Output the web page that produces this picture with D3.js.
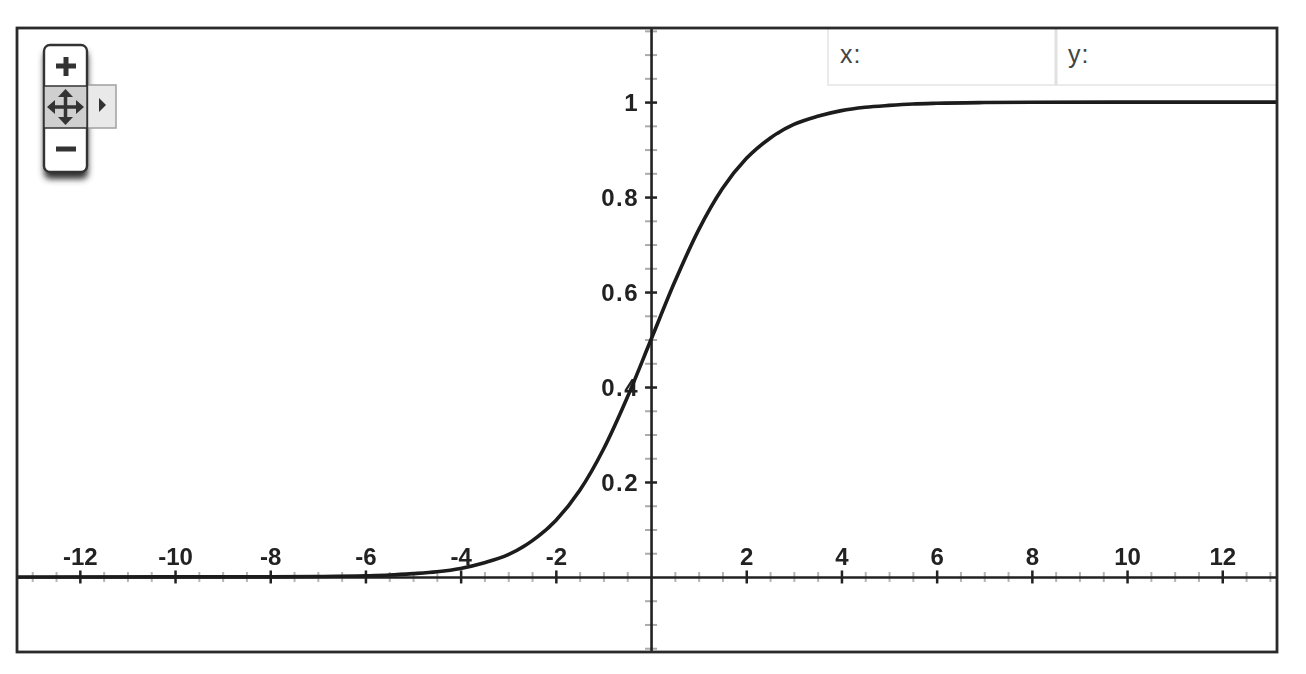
<!DOCTYPE html>
<html><head><meta charset="utf-8">
<script src="https://cdn.jsdelivr.net/npm/d3@7/dist/d3.min.js"></script>
<style>
html,body{margin:0;padding:0;background:#fff;overflow:hidden}
svg{display:block;filter:blur(0.7px)}
text{font-family:"Liberation Sans",Arial,sans-serif}
</style></head><body>
<svg id="c" width="1306" height="674"></svg>
<script>
const curveX=[-13.3,-10,-8,-7,-6,-5.5,-5,-4.5,-4,-3.5,-3,-2.5,-2,-1.5,-1,-0.5,0,0.5,1,1.5,2,2.5,3,3.5,4,4.5,5,5.5,6,7,8,10,13.3];
const curveY=[0,0.0001,0.0003,0.001,0.0025,0.004,0.007,0.011,0.018,0.03,0.047,0.076,0.119,0.182,0.269,0.378,0.5,0.622,0.731,0.818,0.881,0.924,0.953,0.97,0.982,0.989,0.993,0.996,0.9975,0.999,0.9997,0.9999,1];
const xMajor=[-12,-10,-8,-6,-4,-2,2,4,6,8,10,12];
const xMinor=[-13,-12.5,-11.5,-11,-10.5,-9.5,-9,-8.5,-7.5,-7,-6.5,-5.5,-5,-4.5,-3.5,-3,-2.5,-1.5,-1,-0.5,0.5,1,1.5,2.5,3,3.5,4.5,5,5.5,6.5,7,7.5,8.5,9,9.5,10.5,11,11.5,12.5,13];
const yMajor=[0.2,0.4,0.6,0.8,1];
const yMinor=[-0.15,-0.1,-0.05,0.05,0.1,0.15,0.25,0.3,0.35,0.45,0.5,0.55,0.65,0.7,0.75,0.85,0.9,0.95,1.05,1.1,1.15];
const coordLabels=["x:","y:"];
const xDomain=[-13.32,13.15], yDomain=[-0.158,1.156];
const frame={l:17,t:28,r:1277,b:652};

const x=d3.scaleLinear().domain(xDomain).range([frame.l,frame.r]);
const y=d3.scaleLinear().domain(yDomain).range([frame.b,frame.t]);
const svg=d3.select("#c");
const defs=svg.append("defs");
defs.append("clipPath").attr("id","clip").append("rect")
 .attr("x",frame.l).attr("y",frame.t).attr("width",frame.r-frame.l).attr("height",frame.b-frame.t);
const sh=defs.append("filter").attr("id","sh").attr("x","-30%").attr("y","-30%").attr("width","160%").attr("height","160%");
sh.append("feGaussianBlur").attr("stdDeviation",3);

const axisColor="#222";
// minor ticks
const gMinX=svg.append("g").attr("transform",`translate(0,${y(0)})`)
 .call(d3.axisBottom(x).tickValues(xMinor).tickSize(0).tickFormat(""));
gMinX.select(".domain").remove();
gMinX.selectAll(".tick line").attr("y1",-5).attr("y2",5).attr("stroke","#b4b4b4").attr("stroke-width",2);
const gMinY=svg.append("g").attr("transform",`translate(${x(0)},0)`)
 .call(d3.axisLeft(y).tickValues(yMinor).tickSize(0).tickFormat(""));
gMinY.select(".domain").remove();
gMinY.selectAll(".tick line").attr("x1",-6).attr("x2",6).attr("stroke","#aaa").attr("stroke-width",2);

// coordinate box
const bx=[828,1056,1277];
svg.append("rect").attr("x",bx[0]).attr("y",frame.t).attr("width",bx[2]-bx[0]).attr("height",57)
 .attr("fill","#fff").attr("stroke","#e4e4e4").attr("stroke-width",1.5);
svg.append("line").attr("x1",bx[1]).attr("x2",bx[1]).attr("y1",frame.t).attr("y2",85).attr("stroke","#e0e0e0").attr("stroke-width",3);
svg.selectAll(".coord").data(coordLabels).join("text").attr("class","coord")
 .attr("x",(d,i)=>bx[i]+12).attr("y",63).attr("font-size",25).attr("letter-spacing",1).attr("fill","#444").text(d=>d);

// main axes
const gX=svg.append("g").attr("transform",`translate(0,${y(0)})`)
 .call(d3.axisBottom(x).tickValues(xMajor).tickSize(0).tickFormat(d=>String(d)));
gX.select(".domain").attr("stroke",axisColor).attr("stroke-width",2.6);
gX.selectAll(".tick line").attr("y1",-6.5).attr("y2",6.5).attr("stroke","#222").attr("stroke-width",2.5);
gX.selectAll(".tick text").attr("y",-12).attr("dy",0).attr("font-size",24).attr("fill","#222")
 .attr("font-weight","bold").attr("stroke","none");

const gY=svg.append("g").attr("transform",`translate(${x(0)},0)`)
 .call(d3.axisLeft(y).tickValues(yMajor).tickSize(0).tickFormat(d=>String(d)));
gY.select(".domain").attr("stroke",axisColor).attr("stroke-width",2.6);
gY.selectAll(".tick line").attr("x1",-6).attr("x2",6).attr("stroke","#222").attr("stroke-width",2.5);
gY.selectAll(".tick text").attr("x",-12).attr("dy","0.34em").attr("font-size",24).attr("fill","#222")
 .attr("font-weight","bold").attr("letter-spacing",1.5).attr("text-anchor","end");

// curve
svg.append("path").datum(curveX.map((d,i)=>[d,curveY[i]]))
 .attr("clip-path","url(#clip)")
 .attr("fill","none").attr("stroke","#1c1c1c").attr("stroke-width",3.6)
 .attr("d",d3.line().x(d=>x(d[0])).y(d=>y(d[1])).curve(d3.curveMonotoneX));

// frame
svg.append("rect").attr("x",frame.l).attr("y",frame.t).attr("width",frame.r-frame.l).attr("height",frame.b-frame.t)
 .attr("fill","none").attr("stroke","#2a2a2a").attr("stroke-width",2.8);

// navigation control
const nav=svg.append("g");
nav.append("rect").attr("x",44).attr("y",51).attr("width",44).attr("height",128).attr("rx",6).attr("fill","#333").attr("filter","url(#sh)");
nav.append("rect").attr("x",87).attr("y",85).attr("width",29).attr("height",43).attr("fill","#e9e9e9").attr("stroke","#a0a0a0").attr("stroke-width",1.5);
nav.append("path").attr("d","M99,98 L106,105 L99,112 Z").attr("fill","#333");
nav.append("rect").attr("x",44).attr("y",45).attr("width",43).attr("height",127).attr("rx",6).attr("fill","#fff").attr("stroke","#333").attr("stroke-width",2.4);
nav.append("rect").attr("x",44).attr("y",86).attr("width",43).attr("height",42).attr("fill","#cfcfcf").attr("stroke","#333").attr("stroke-width",1.5);
nav.append("path").attr("d","M56,66 H76 M66,57 V76").attr("stroke","#333").attr("stroke-width",5).attr("fill","none");
nav.append("path").attr("d","M56,149 H76").attr("stroke","#333").attr("stroke-width",5).attr("fill","none");
nav.append("path").attr("d","M50,107 H81 M65.5,92 V122").attr("stroke","#333").attr("stroke-width",3.5).attr("fill","none");
nav.append("path").attr("d","M65.5,89 L73,97 H58 Z M65.5,125 L73,117 H58 Z M47,107 L55,100 V114 Z M84,107 L76,100 V114 Z").attr("fill","#333");
</script>
</body></html>
